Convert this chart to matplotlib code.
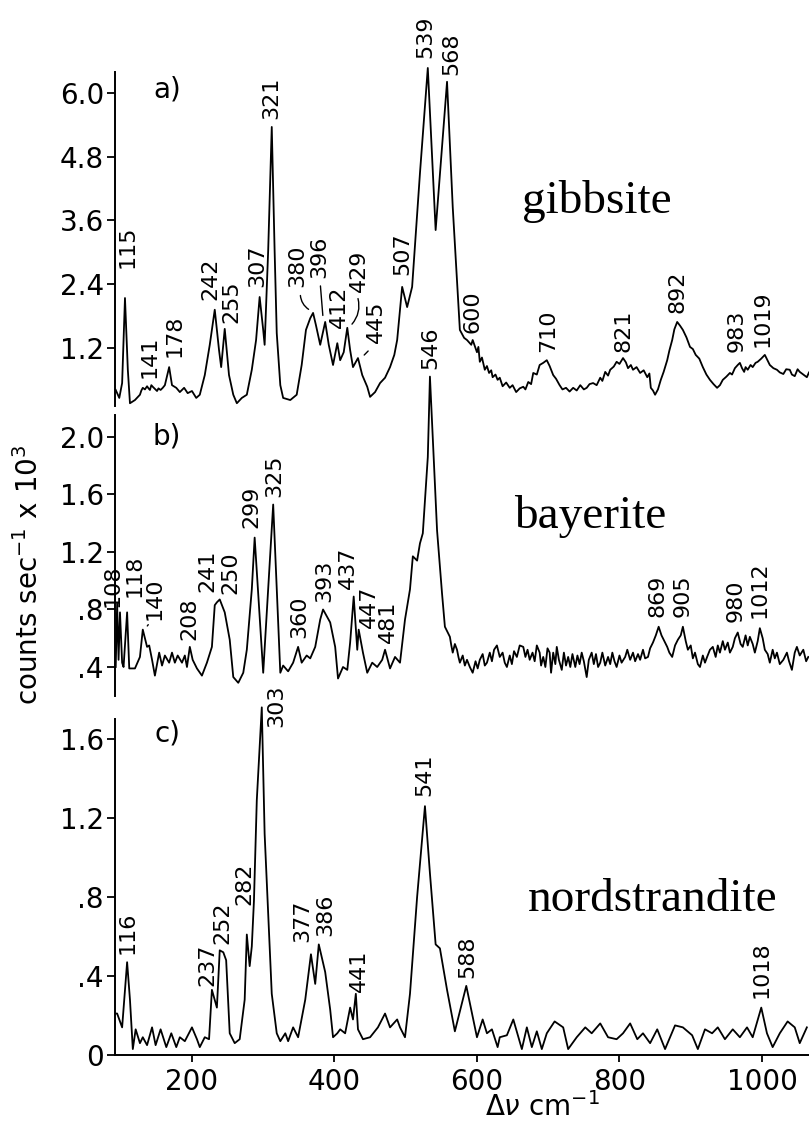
import matplotlib
matplotlib.use("Agg")
import matplotlib.pyplot as plt

# a) gibbsite - Raman shift (cm-1) og counts (x10^3)
gib_shift = [93, 98, 102, 106, 110, 113, 120, 127, 129, 131, 134, 137, 139, 141, 143, 145, 148, 151,
             153, 156, 159, 162, 168, 172, 178, 183, 189, 194, 200, 206, 211, 218, 225, 232, 238, 241,
             246, 252, 258, 263, 270, 277, 284, 290, 295, 300, 302, 307, 312, 316, 319, 324, 328, 338,
             347, 354, 360, 366, 370, 374, 380, 387, 392, 398, 404, 408, 413, 418, 422, 426, 433, 439,
             446, 450, 457, 464, 471, 478, 484, 488, 495, 502, 509, 520, 531, 542, 558, 566, 576, 582,
             586, 592, 594,
             600, 602, 604, 607, 611, 614, 617, 620, 622, 626, 629, 632, 636, 641, 646, 650, 655, 660,
             665, 668, 672, 676, 679, 684, 688, 693, 698, 702, 707, 711, 716, 720, 725, 730, 735, 740,
             745, 750, 754, 758, 763, 768, 773, 776, 780, 784, 787, 792, 796, 800, 805, 809, 812, 816,
             819, 824, 829, 834, 839, 842, 844, 847, 850, 854, 858, 862, 867, 870, 874, 877, 881, 885,
             889, 894, 899, 903, 907, 912, 917, 922, 927, 932, 937, 941, 945, 950, 955, 958, 962, 966,
             969, 972, 975, 977, 980, 984, 987, 991, 994, 999, 1004, 1008, 1011, 1016, 1021, 1025, 1030,
             1034, 1039, 1042, 1046, 1050, 1053, 1058, 1063, 1066]
gib_counts = [0.41, 0.26, 0.54, 2.14, 0.79, 0.16, 0.22, 0.32, 0.40, 0.45, 0.42, 0.48, 0.44, 0.41, 0.50,
              0.47, 0.43, 0.39, 0.44, 0.41, 0.45, 0.50, 0.84, 0.50, 0.45, 0.37, 0.45, 0.35, 0.39, 0.26,
              0.32, 0.69, 1.26, 1.92, 1.16, 0.84, 1.56, 0.69, 0.32, 0.16, 0.26, 0.32, 0.79, 1.35, 2.16,
              1.54, 1.26, 3.04, 5.36, 3.04, 1.48, 0.50, 0.26, 0.22, 0.32, 0.88, 1.54, 1.76, 1.86, 1.63,
              1.26, 1.69, 1.26, 0.88, 1.29, 0.97, 1.12, 1.58, 1.16, 0.84, 1.01, 0.69, 0.47, 0.28, 0.37,
              0.54, 0.64, 0.84, 1.07, 1.35, 2.35, 1.97, 2.35, 4.49, 6.47, 3.42, 6.21, 3.85, 1.54, 1.39,
              1.35, 1.26, 1.35,
              1.12, 1.22, 0.94, 1.02, 0.79, 0.86, 0.73, 0.78, 0.65, 0.70, 0.60, 0.64, 0.48, 0.55, 0.45,
              0.50, 0.37, 0.44, 0.47, 0.42, 0.56, 0.52, 0.73, 0.70, 0.88, 0.92, 0.97, 0.86, 0.69, 0.62,
              0.50, 0.42, 0.45, 0.38, 0.45, 0.40, 0.50, 0.42, 0.45, 0.52, 0.54, 0.50, 0.64, 0.58, 0.75,
              0.68, 0.79, 0.85, 0.94, 0.90, 1.01, 0.93, 0.82, 0.88, 0.79, 0.84, 0.73, 0.78, 0.65, 0.72,
              0.45, 0.40, 0.32, 0.42, 0.60, 0.75, 0.97, 1.15, 1.35, 1.55, 1.69, 1.62, 1.54, 1.40, 1.22,
              1.18, 1.07, 1.00, 0.84, 0.70, 0.60, 0.52, 0.45, 0.50, 0.60, 0.66, 0.73, 0.70, 0.82, 0.88,
              0.92, 0.82, 0.75, 0.84, 0.79, 0.88, 0.84, 0.92, 0.94, 1.00, 1.07, 0.96, 0.88, 0.82, 0.79,
              0.74, 0.71, 0.80, 0.79, 0.70, 0.67, 0.80, 0.75, 0.70, 0.65, 0.74]
gib_peaks = ["115", "141", "178", "242", "255", "307", "321", "380", "396", "412", "429", "445",
             "507", "539", "568", "600", "710", "821", "892", "983", "1019"]

# b) bayerite
bay_shift = [93, 95, 97, 99, 102, 104, 109, 112, 120, 127, 131, 137, 140, 144, 148, 154, 158, 162, 168,
             172, 176, 180, 186, 190, 193, 197, 201, 207, 214, 221, 228, 232, 235, 239, 246, 253, 258,
             265, 272, 277, 284, 288, 300, 314, 324, 328, 335, 342, 349, 354, 361, 366, 373, 380, 384,
             394, 401, 405, 412, 418, 422, 427, 432, 434, 440, 446, 453, 460, 467, 471, 478, 485, 492,
             499, 506, 510, 516, 520, 524, 531, 534, 544, 551, 555,
             562, 564, 566, 569, 572, 574, 576, 580, 583, 586, 590, 594, 598, 601, 604, 608, 611, 614,
             618, 621, 624, 628, 632, 636, 639, 642, 646, 649, 652, 656, 660, 665, 668, 671, 674, 678,
             681, 684, 688, 690, 693, 696, 699, 702, 704, 707, 710, 712, 715, 719, 722, 725, 728, 731,
             734, 738, 741, 744, 747, 750, 754, 757, 761, 764, 767, 770, 773, 776, 780, 784, 787, 790,
             793, 796, 800, 803, 808, 811, 815, 819, 822, 826, 829, 833, 836, 840, 843, 847, 851, 855,
             859, 863, 867, 870, 874, 878, 882, 886, 889, 893, 896, 900, 903, 906, 910, 913, 917, 920,
             923, 927, 931, 935, 938, 941, 945, 948, 952, 955, 959, 962, 966, 970, 973, 977, 980, 983,
             987, 990, 994, 997, 1001, 1004, 1008, 1011, 1015, 1018, 1021, 1025, 1030, 1035, 1038,
             1042, 1046, 1049, 1053, 1058, 1062, 1065]
bay_counts = [0.40, 0.84, 0.45, 0.78, 0.43, 0.40, 0.78, 0.39, 0.39, 0.47, 0.66, 0.54, 0.55, 0.45, 0.34,
              0.50, 0.41, 0.48, 0.43, 0.50, 0.43, 0.48, 0.43, 0.48, 0.40, 0.54, 0.45, 0.39, 0.34, 0.43,
              0.54, 0.83, 0.85, 0.87, 0.78, 0.59, 0.33, 0.29, 0.36, 0.52, 0.94, 1.30, 0.36, 1.53, 0.36,
              0.41, 0.37, 0.43, 0.54, 0.43, 0.48, 0.46, 0.54, 0.73, 0.80, 0.71, 0.54, 0.32, 0.40, 0.38,
              0.57, 0.89, 0.52, 0.66, 0.50, 0.36, 0.43, 0.40, 0.45, 0.52, 0.39, 0.47, 0.43, 0.73, 0.94,
              1.17, 1.14, 1.26, 1.33, 1.86, 2.42, 1.35, 0.91, 0.68,
              0.61, 0.55, 0.50, 0.56, 0.52, 0.47, 0.43, 0.48, 0.41, 0.45, 0.40, 0.36, 0.44, 0.39, 0.45,
              0.49, 0.41, 0.43, 0.50, 0.44, 0.52, 0.55, 0.47, 0.50, 0.43, 0.40, 0.48, 0.42, 0.51, 0.47,
              0.55, 0.54, 0.47, 0.52, 0.45, 0.50, 0.44, 0.55, 0.50, 0.41, 0.47, 0.40, 0.53, 0.50, 0.36,
              0.50, 0.42, 0.54, 0.45, 0.38, 0.50, 0.41, 0.47, 0.40, 0.49, 0.40, 0.48, 0.42, 0.50, 0.44,
              0.33, 0.45, 0.50, 0.42, 0.49, 0.40, 0.43, 0.50, 0.41, 0.47, 0.42, 0.50, 0.44, 0.40, 0.48,
              0.43, 0.47, 0.52, 0.45, 0.50, 0.44, 0.49, 0.45, 0.52, 0.46, 0.47, 0.53, 0.57, 0.62, 0.68,
              0.62, 0.58, 0.54, 0.50, 0.47, 0.55, 0.59, 0.62, 0.68, 0.58, 0.52, 0.55, 0.46, 0.50, 0.42,
              0.40, 0.48, 0.43, 0.47, 0.52, 0.54, 0.47, 0.55, 0.50, 0.58, 0.52, 0.57, 0.50, 0.54, 0.60,
              0.64, 0.56, 0.54, 0.62, 0.55, 0.61, 0.56, 0.50, 0.58, 0.67, 0.60, 0.52, 0.49, 0.43, 0.52,
              0.46, 0.50, 0.42, 0.45, 0.50, 0.44, 0.38, 0.50, 0.54, 0.48, 0.52, 0.44, 0.47]
bay_peaks = ["108", "118", "140", "208", "241", "250", "299", "325", "360", "393", "437", "447",
             "481", "546", "869", "905", "980", "1012"]

# c) nordstrandite
nor_shift = [93, 95, 102, 109, 113, 117, 121, 127, 131, 137, 144, 149, 156, 164, 171, 178, 183, 190,
             200, 207, 211, 218, 224, 228, 235, 239, 244, 248, 253, 260, 267, 274, 277, 281, 284, 287,
             291, 298, 302, 312, 319, 324, 331, 335, 342, 349, 359, 367, 373, 378, 387, 394, 398, 404,
             408, 415, 422, 426, 430, 433, 440, 450, 461, 471, 478, 488, 492, 499, 506, 516, 527, 534,
             542, 548, 558, 569, 585, 600, 608, 614, 621, 629, 632, 642, 651, 663, 670, 677, 684, 691,
             698, 709, 721, 728, 740, 752, 761, 773, 784, 796, 805, 815, 825, 833, 843, 853, 864, 878,
             889, 902, 910, 920, 930, 938, 948, 959, 969, 979, 987, 999, 1007, 1015, 1025, 1036, 1046,
             1053, 1063]
nor_counts = [0.21, 0.21, 0.14, 0.47, 0.28, 0.03, 0.13, 0.06, 0.09, 0.05, 0.14, 0.05, 0.13, 0.04, 0.11,
              0.04, 0.09, 0.07, 0.14, 0.08, 0.04, 0.09, 0.08, 0.33, 0.24, 0.53, 0.52, 0.48, 0.11, 0.06,
              0.08, 0.28, 0.61, 0.45, 0.55, 0.78, 1.29, 1.76, 1.12, 0.31, 0.11, 0.07, 0.11, 0.07, 0.14,
              0.09, 0.28, 0.51, 0.36, 0.56, 0.42, 0.23, 0.09, 0.11, 0.13, 0.11, 0.24, 0.18, 0.31, 0.13,
              0.08, 0.09, 0.14, 0.21, 0.14, 0.18, 0.14, 0.09, 0.31, 0.80, 1.26, 0.92, 0.56, 0.54, 0.33,
              0.12, 0.35, 0.09, 0.18, 0.11, 0.13, 0.04, 0.09, 0.10, 0.18, 0.03, 0.14, 0.04, 0.12, 0.03,
              0.11, 0.17, 0.14, 0.03, 0.09, 0.14, 0.11, 0.16, 0.09, 0.08, 0.11, 0.16, 0.08, 0.11, 0.06,
              0.13, 0.03, 0.15, 0.14, 0.10, 0.03, 0.13, 0.11, 0.14, 0.08, 0.13, 0.09, 0.14, 0.09, 0.24,
              0.11, 0.04, 0.11, 0.17, 0.14, 0.06, 0.14]
nor_peaks = ["116", "237", "252", "282", "303", "377", "386", "441", "541", "588", "1018"]

assert len(gib_shift) == len(gib_counts)
assert len(bay_shift) == len(bay_counts)
assert len(nor_shift) == len(nor_counts)

# Akser / tick-labels
x_ticks = [200, 400, 600, 800, 1000]
x_ticklabels = ["200", "400", "600", "800", "1000"]
gib_yticks = [1.2, 2.4, 3.6, 4.8, 6.0]
gib_yticklabels = ["1.2", "2.4", "3.6", "4.8", "6.0"]
bay_yticks = [0.4, 0.8, 1.2, 1.6, 2.0]
bay_yticklabels = [".4", ".8", "1.2", "1.6", "2.0"]
nor_yticks = [0, 0.4, 0.8, 1.2, 1.6]
nor_yticklabels = ["0", ".4", ".8", "1.2", "1.6"]

# Placering af peak-labels (bund af teksten, i data-koordinater)
gib_label_pos = [(109, 2.71), (141, 0.64), (176, 1.03), (226, 2.10), (256, 1.67), (291, 2.35),
                 (311, 5.51), (348, 2.35), (379, 2.52), (406, 1.58), (435, 2.25), (458, 1.29),
                 (495, 2.57), (528, 6.66), (564, 6.34), (594, 1.48), (700, 1.12), (806, 1.12),
                 (881, 1.86), (965, 1.12), (1001, 1.22)]
bay_label_pos = [(89, 0.82), (119, 0.89), (148, 0.73), (196, 0.59), (222, 0.92), (254, 0.91),
                 (283, 1.37), (316, 1.58), (350, 0.60), (385, 0.85), (419, 0.94), (449, 0.67),
                 (475, 0.57), (535, 2.47), (854, 0.75), (889, 0.75), (963, 0.71), (997, 0.74)]
nor_label_pos = [(110, 0.51), (221, 0.35), (242, 0.56), (273, 0.76), (318, 1.66), (355, 0.57),
                 (387, 0.60), (434, 0.32), (526, 1.31), (586, 0.39), (1000, 0.29)]

sans = "DejaVu Sans"
serif = "Liberation Serif"
plt.rcParams["font.family"] = sans
plt.rcParams["mathtext.fontset"] = "dejavusans"

fig = plt.figure(figsize=(8.09, 11.22), dpi=100)
left, width = 115 / 809, 694 / 809
ax_a = fig.add_axes([left, 0.6354, width, 0.3078])
ax_b = fig.add_axes([left, 0.3799, width, 0.2947])
ax_c = fig.add_axes([left, 0.0597, width, 0.3257])


def draw_panel(ax, shift, counts, ylim, spine_bounds, yticks, yticklabels,
               peaks, label_pos, name, name_pos, letter, letter_pos, bottom=False):
    ax.patch.set_alpha(0)
    ax.plot(shift, counts, color="black", lw=1.3, clip_on=False)
    ax.set_xlim(92, 1066)
    ax.set_ylim(*ylim)
    for s in ["top", "right"]:
        ax.spines[s].set_visible(False)
    ax.spines["left"].set_bounds(*spine_bounds)
    ax.spines["left"].set_linewidth(1.4)
    ax.set_yticks(yticks)
    ax.set_yticklabels(yticklabels)
    ax.tick_params(axis="y", direction="out", length=6, width=1.3, pad=2, labelsize=20)
    if bottom:
        ax.spines["bottom"].set_linewidth(1.4)
        ax.set_xticks(x_ticks)
        ax.set_xticklabels(x_ticklabels)
        ax.tick_params(axis="x", direction="out", length=5, width=1.3, pad=4, labelsize=20)
    else:
        ax.spines["bottom"].set_visible(False)
        ax.set_xticks([])
    for txt, (px, py) in zip(peaks, label_pos):
        ax.text(px, py, txt, rotation=90, ha="center", va="bottom", fontsize=16)
    ax.text(name_pos[0], name_pos[1], name, family=serif, fontsize=34,
            ha="center", va="baseline")
    ax.text(letter_pos[0], letter_pos[1], letter, fontsize=20, ha="center", va="center")


draw_panel(ax_a, gib_shift, gib_counts, (0.05, 6.55), (0.1, 6.4), gib_yticks, gib_yticklabels,
           gib_peaks, gib_label_pos, "gibbsite", (768, 3.74), "a)", (165, 6.06))
draw_panel(ax_b, bay_shift, bay_counts, (0.2, 2.5), (0.2, 2.15), bay_yticks, bay_yticklabels,
           bay_peaks, bay_label_pos, "bayerite", (759, 1.37), "b)", (165, 2.0))
draw_panel(ax_c, nor_shift, nor_counts, (0, 1.85), (0, 1.70), nor_yticks, nor_yticklabels,
           nor_peaks, nor_label_pos, "nordstrandite", (847, 0.73), "c)", (166, 1.63), bottom=True)

# små hjælpestreger fra labels til toppe
lead = dict(arrowstyle="-", color="black", lw=1.0)
ax_a.annotate("", xy=(367, 1.90), xytext=(352, 2.24),
              arrowprops=dict(lead, connectionstyle="arc3,rad=0.3"))
ax_a.annotate("", xy=(384, 1.76), xytext=(380, 2.42), arrowprops=lead)
ax_a.annotate("", xy=(422, 1.61), xytext=(432, 2.18),
              arrowprops=dict(lead, connectionstyle="arc3,rad=-0.3"))
ax_a.annotate("", xy=(439, 1.03), xytext=(450, 1.18), arrowprops=lead)
ax_b.annotate("", xy=(135, 0.67), xytext=(141, 0.71), arrowprops=lead)

fig.text(29 / 809, 1 - 575 / 1122, "counts sec$^{-1}$ x 10$^{3}$", rotation=90,
         ha="center", va="center", fontsize=20)
fig.text(542 / 809, 1 - 1107 / 1122, r"$\Delta\nu$ cm$^{-1}$", ha="center", va="center",
         fontsize=20)

fig.savefig("out.png", dpi=100)
